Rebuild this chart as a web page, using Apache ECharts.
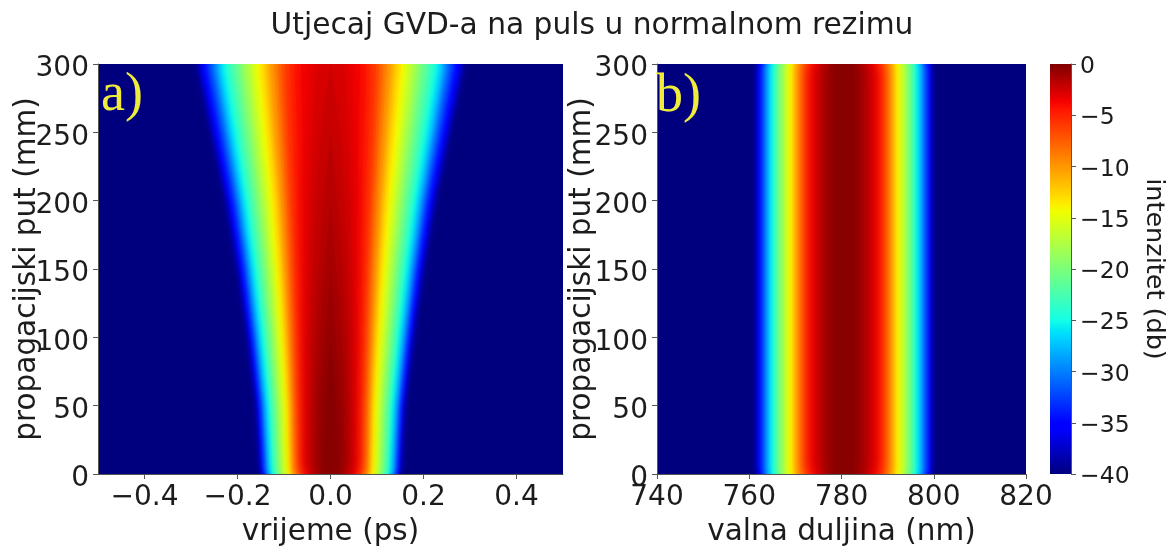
<!DOCTYPE html>
<html><head><meta charset="utf-8">
<style>html,body{margin:0;padding:0;background:#fff}#c{width:1176px;height:546px}</style>
<script src="https://cdn.jsdelivr.net/npm/echarts@6/dist/echarts.min.js"></script>
</head><body><div id="c"></div>
<script>
// intensity contours, dB
const levels=[-40,-39,-38,-37,-36,-35,-34,-33,-32,-31,-30,-29,-28,-27,-26,-25,-24,-23,-22,-21,-20,-19,-18,-17,-16,-15,-14,-13,-12,-11,-10,-9,-8,-7,-6,-5,-4,-3.5,-3,-2.5,-2,-1.5,-1,-0.5];
// panel a: propagation distance (mm) of each contour row
const zRows=[0,50,100,150,200,250,300];
// panel a: half width (ps) of each contour, one list per distance
const halfWidth0=[.148,.147,.145,.144,.142,.140,.139,.137,.135,.133,.131,.130,.128,.126,.124,.122,.119,.116,.113,.110,.107,.104,.101,.097,.094,.091,.088,.084,.081,.078,.074,.070,.066,.062,.057,.052,.047,.044,.041,.037,.033,.029,.023,.016];
const halfWidth50=[.157,.156,.154,.153,.150,.148,.147,.145,.143,.141,.138,.137,.135,.133,.131,.129,.125,.122,.119,.116,.112,.109,.106,.102,.099,.095,.092,.088,.085,.081,.077,.073,.069,.064,.059,.054,.049,.046,.042,.038,.033,.028,.021,.012];
const halfWidth100=[.176,.175,.172,.171,.168,.166,.164,.162,.159,.157,.154,.153,.150,.148,.145,.143,.139,.135,.131,.128,.124,.120,.117,.112,.108,.104,.101,.096,.092,.089,.084,.079,.074,.069,.063,.058,.052,.048,.044,.039,.032,.024,.011,0];
const halfWidth150=[.198,.196,.194,.192,.189,.186,.184,.181,.178,.175,.172,.170,.168,.165,.162,.159,.155,.150,.146,.141,.137,.133,.129,.123,.119,.115,.111,.105,.101,.097,.091,.086,.080,.075,.068,.062,.055,.051,.045,.037,.026,.012,0,0];
const halfWidth200=[.224,.222,.219,.217,.214,.210,.208,.204,.201,.197,.193,.191,.188,.185,.182,.178,.173,.168,.163,.158,.153,.148,.143,.137,.133,.127,.123,.116,.111,.107,.100,.094,.088,.082,.074,.067,.058,.052,.043,.031,.014,0,0,0];
const halfWidth250=[.256,.253,.250,.247,.244,.239,.237,.233,.228,.224,.220,.217,.214,.210,.206,.201,.196,.190,.184,.178,.172,.166,.161,.154,.149,.143,.137,.129,.124,.119,.111,.104,.097,.091,.082,.072,.060,.051,.038,.020,0,0,0,0];
const halfWidth300=[.288,.285,.281,.278,.274,.269,.266,.261,.256,.251,.246,.243,.239,.235,.231,.225,.219,.212,.205,.198,.191,.185,.179,.171,.165,.158,.152,.143,.137,.131,.122,.114,.106,.098,.087,.077,.064,.049,.030,0,0,0,0,0];
const halfWidthRows=[halfWidth0,halfWidth50,halfWidth100,halfWidth150,halfWidth200,halfWidth250,halfWidth300];
// panel b: spectrum centre and half width (nm) of each contour
const spectrumCentre=780.6;
const spectrumHalfWidth=[19.0,18.8,18.6,18.4,18.2,17.9,17.7,17.4,17.2,17.0,16.7,16.4,16.2,15.9,15.6,15.3,15.0,14.6,14.3,14.0,13.6,13.2,12.9,12.5,12.1,11.7,11.3,10.9,10.5,10.0,9.5,9.0,8.5,8.0,7.4,6.8,6.1,5.7,5.3,4.8,4.3,3.7,3.0,2.1];
// tick labels
const timeTicks=[-0.4,-0.2,0,0.2,0.4];
const titleText='Utjecaj GVD-a na puls u normalnom rezimu';

// matplotlib jet colour map
const jetStops=[[0,0,0,.5],[.11,0,0,1],[.125,0,0,1],[.34,0,.86,1],[.35,0,.9,.97],[.375,.08,1,.9],[.64,.94,1,0],[.65,.97,.96,0],[.66,1,.92,0],[.89,1,.08,0],[.91,.96,0,0],[1,.5,0,0]];
function css(a,b,c){return 'rgb('+Math.round(a*255)+','+Math.round(b*255)+','+Math.round(c*255)+')'}
function jet(t){
  for(let i=1;i<jetStops.length;i++){const p=jetStops[i-1],q=jetStops[i];
    if(t<=q[0]){const f=(t-p[0])/(q[0]-p[0]);return css(p[1]+f*(q[1]-p[1]),p[2]+f*(q[2]-p[2]),p[3]+f*(q[3]-p[3]));}}
  return css(.5,0,0);
}
// each band is coloured by the middle of its step to the next contour
const bandColor=i=>{const next=i+1<levels.length?levels[i+1]:0;return jet(((levels[i]+next)/2+40)/40);};
const NAVY='#00007f',TXT='#1c1c1c',LINE='#555',FONT='DejaVu Sans';
const minus=v=>String(v).replace('-','\u2212');
const softEdge=i=>{const c=bandColor(i);return {fill:c,shadowColor:c,shadowBlur:levels[i]>=-6?16:7};};

function renderTime(params,api){
  const i=params.dataIndex,pts=[];
  zRows.forEach((z,r)=>pts.push(api.coord([-halfWidthRows[r][i],z])));
  for(let r=zRows.length-1;r>=0;r--)pts.push(api.coord([halfWidthRows[r][i],zRows[r]]));
  return {type:'polygon',shape:{points:pts},style:softEdge(i),silent:true};
}
function renderSpectrum(params,api){
  const i=params.dataIndex,w=spectrumHalfWidth[i];
  const pts=[[spectrumCentre-w,0],[spectrumCentre-w,300],[spectrumCentre+w,300],[spectrumCentre+w,0]].map(p=>api.coord(p));
  return {type:'polygon',shape:{points:pts},style:softEdge(i),silent:true};
}
function renderBar(params,api){
  const a=api.coord([0,0]),b=api.coord([1,-40]);
  const colorStops=jetStops.map(s=>({offset:1-s[0],color:css(s[1],s[2],s[3])})).reverse();
  return {type:'rect',shape:{x:a[0],y:a[1],width:b[0]-a[0],height:b[1]-a[1]},
    style:{fill:new echarts.graphic.LinearGradient(0,0,0,1,colorStops)},silent:true};
}
const axisCommon={
  axisLine:{show:true,onZero:false,lineStyle:{color:LINE,width:1}},
  axisTick:{show:true,length:5,lineStyle:{color:LINE,width:1}},
  splitLine:{show:false},
  nameMoveOverlap:false,
  nameTextStyle:{color:TXT,fontFamily:FONT,fontSize:29.5}
};
const tickLabel={color:TXT,fontFamily:FONT,fontSize:28,margin:10};
const yTickLabel=Object.assign({},tickLabel,{margin:9,verticalAlign:'top',lineHeight:10});
const chart=echarts.init(document.getElementById('c'),null,{renderer:'canvas'});
chart.setOption({
  animation:false,backgroundColor:'#fff',
  title:{text:titleText,left:587,top:6,textAlign:'center',textStyle:{color:TXT,fontFamily:FONT,fontSize:29.7,fontWeight:'normal'}},
  grid:[
    {left:98,top:64,width:465,height:410,show:true,backgroundColor:NAVY,borderWidth:0,outerBoundsMode:'none'},
    {left:657,top:64,width:369,height:410,show:true,backgroundColor:NAVY,borderWidth:0,outerBoundsMode:'none'},
    {left:1050,top:64,width:21,height:410,show:false,outerBoundsMode:'none'}
  ],
  xAxis:[
    Object.assign({},axisCommon,{gridIndex:0,type:'value',min:-0.5,max:0.5,name:'vrijeme (ps)',nameLocation:'middle',nameGap:43,
      axisTick:Object.assign({},axisCommon.axisTick,{customValues:timeTicks}),
      axisLabel:Object.assign({},tickLabel,{customValues:timeTicks,formatter:v=>minus(Number(v).toFixed(1))})}),
    Object.assign({},axisCommon,{gridIndex:1,type:'value',min:740,max:820,interval:20,name:'valna duljina (nm)',nameLocation:'middle',nameGap:43,
      axisLabel:tickLabel}),
    {gridIndex:2,type:'value',min:0,max:1,show:false}
  ],
  yAxis:[
    Object.assign({},axisCommon,{gridIndex:0,type:'value',min:0,max:300,interval:50,name:'propagacijski put (mm)',nameLocation:'middle',nameGap:56,axisLabel:yTickLabel}),
    Object.assign({},axisCommon,{gridIndex:1,type:'value',min:0,max:300,interval:50,name:'propagacijski put (mm)',nameLocation:'middle',nameGap:60,axisLabel:yTickLabel}),
    Object.assign({},axisCommon,{gridIndex:2,type:'value',position:'right',min:-40,max:0,interval:5,name:'intenzitet (db)',nameLocation:'middle',nameRotate:-90,nameGap:70,
      nameTextStyle:{color:TXT,fontFamily:FONT,fontSize:25.5},
      axisLabel:{color:TXT,fontFamily:FONT,fontSize:23.5,margin:9,verticalAlign:'top',lineHeight:6,formatter:v=>minus(v)}})
  ],
  series:[
    {type:'custom',xAxisIndex:0,yAxisIndex:0,coordinateSystem:'cartesian2d',clip:true,silent:true,data:levels.map(L=>[L]),encode:{x:[],y:[]},renderItem:renderTime},
    {type:'custom',xAxisIndex:1,yAxisIndex:1,coordinateSystem:'cartesian2d',clip:true,silent:true,data:levels.map(L=>[L]),encode:{x:[],y:[]},renderItem:renderSpectrum},
    {type:'custom',xAxisIndex:2,yAxisIndex:2,coordinateSystem:'cartesian2d',silent:true,data:[[0]],encode:{x:[],y:[]},renderItem:renderBar}
  ],
  graphic:[
    {type:'text',left:101,top:69,z:100,style:{text:'a)',fill:'#f0ec3c',font:'54px "Liberation Serif"'}},
    {type:'text',left:656,top:70,z:100,style:{text:'b)',fill:'#f0ec3c',font:'54px "Liberation Serif"'}}
  ]
});
</script></body></html>
